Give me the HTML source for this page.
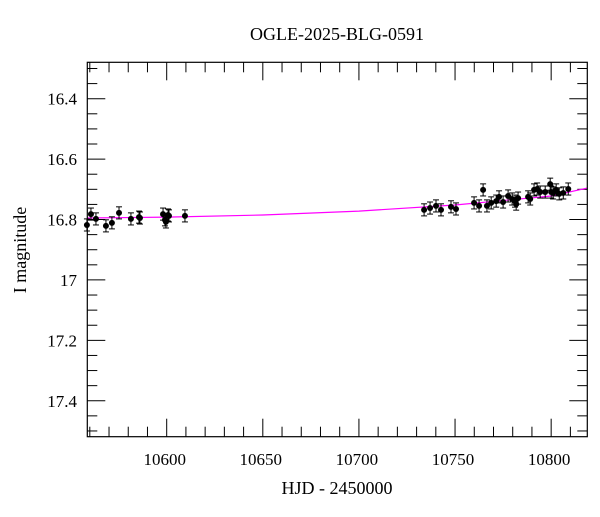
<!DOCTYPE html>
<html><head><meta charset="utf-8"><style>
body{margin:0;background:#fff;}
svg text{font-family:"Liberation Serif",serif;fill:#000;}
</style></head><body>
<svg id="chart" width="600" height="512"></svg>
<script>
const hjd=[10558.5,10560.6,10563.2,10568.4,10571.5,10575.2,10581.4,10585.6,10586.1,10598.1,10599.1,10599.6,10601.2,10600.7,10609.5,
10733.9,10737.0,10740.1,10742.7,10747.9,10750.5,10759.9,10762.5,10766.6,10764.6,10768.8,10771.4,10772.9,10775.0,10777.6,10779.7,10781.2,10782.8,10781.8,10788.0,10789.1,10791.1,10792.7,10794.3,10796.9,10800.0,10799.5,10801.0,10802.6,10804.2,10806.3,10808.9];
const mag=[16.818,16.782,16.798,16.821,16.811,16.778,16.798,16.792,16.795,16.782,16.801,16.808,16.788,16.785,16.788,
16.768,16.762,16.755,16.768,16.758,16.765,16.745,16.755,16.755,16.702,16.745,16.739,16.725,16.742,16.722,16.732,16.739,16.729,16.749,16.725,16.732,16.702,16.699,16.709,16.709,16.709,16.683,16.712,16.702,16.715,16.712,16.699];
const magErr=0.02;
const modelT=[10558.7,10600,10650,10700,10750,10800,10818.8];
const modelM=[16.795,16.792,16.785,16.772,16.752,16.722,16.696];
const xTicks=[10600,10650,10700,10750,10800];
const yTicks=[16.4,16.6,16.8,17,17.2,17.4];
const yLabels=["16.4","16.6","16.8","17","17.2","17.4"];

const L=87.3,R=587.3,T=62.3,B=436.7;
const x0=10558.7,x1=10818.8,y0=16.2795,y1=17.519;
const sx=v=>L+(v-x0)/(x1-x0)*(R-L);
const sy=v=>T+(v-y0)/(y1-y0)*(B-T);
const svg=document.getElementById('chart');
const NS='http://www.w3.org/2000/svg';
function mk(t,a,p){const e=document.createElementNS(NS,t);for(const k in a)e.setAttribute(k,a[k]);(p||svg).appendChild(e);return e;}

// minor/major ticks
const tg=mk('g',{stroke:'#000','stroke-width':1});


for(let v=10560;v<=10818;v+=10){const X=sx(v);const len=(v%50===0)?18:10;
 mk('line',{x1:X,y1:B,x2:X,y2:B-len},tg);mk('line',{x1:X,y1:T,x2:X,y2:T+len},tg);}
for(let i=0;i<=24;i++){const v=16.3+i*0.05;if(v>y1)break;const Y=sy(v);const maj=Math.abs((v*10)%2)<0.01||Math.abs((v*10)%2-2)<0.01;const len=maj?18:10;
 mk('line',{x1:L,y1:Y,x2:L+len,y2:Y},tg);mk('line',{x1:R,y1:Y,x2:R-len,y2:Y},tg);}

// model curve
let d='';
for(let i=0;i<modelT.length;i++){d+=(i?'L':'M')+sx(modelT[i]).toFixed(1)+','+sy(modelM[i]).toFixed(1);}
const mp=mk('path',{d:d,fill:'none',stroke:'#ff00ff','stroke-width':1.2});



// data points
const dg=mk('g',{});


for(let i=0;i<hjd.length;i++){
 const X=sx(hjd[i]),Y=sy(mag[i]),Y1=sy(mag[i]-magErr),Y2=sy(mag[i]+magErr);
 const g=mk('g',{stroke:'#000','stroke-width':1},dg);
 
 
 mk('line',{x1:X,y1:Y1,x2:X,y2:Y2},g);
 mk('line',{x1:X-3,y1:Y1,x2:X+3,y2:Y1},g);
 mk('line',{x1:X-3,y1:Y2,x2:X+3,y2:Y2},g);
 mk('circle',{cx:X,cy:Y,r:3,fill:'#000',stroke:'none'},g);
}

// frame
const fr=mk('rect',{x:L,y:T,width:R-L,height:B-T,fill:'none',stroke:'#000','stroke-width':1.2});



// tick labels
xTicks.forEach(v=>{const t=mk('text',{x:sx(v)-2,y:465,'font-size':17,'text-anchor':'middle'});t.textContent=v;
 });
yTicks.forEach((v,i)=>{const t=mk('text',{x:77,y:sy(v)+6,'font-size':17,'text-anchor':'end'});t.textContent=yLabels[i];
 });

const tt=mk('text',{x:337,y:40,'font-size':18,'text-anchor':'middle'});tt.textContent='OGLE-2025-BLG-0591';

const xl=mk('text',{x:337,y:494,'font-size':18,'text-anchor':'middle'});xl.textContent='HJD - 2450000';

const yl=mk('text',{x:0,y:0,'font-size':18,'text-anchor':'middle',transform:'translate(26,250) rotate(-90)'});yl.textContent='I magnitude';

</script>
</body></html>
